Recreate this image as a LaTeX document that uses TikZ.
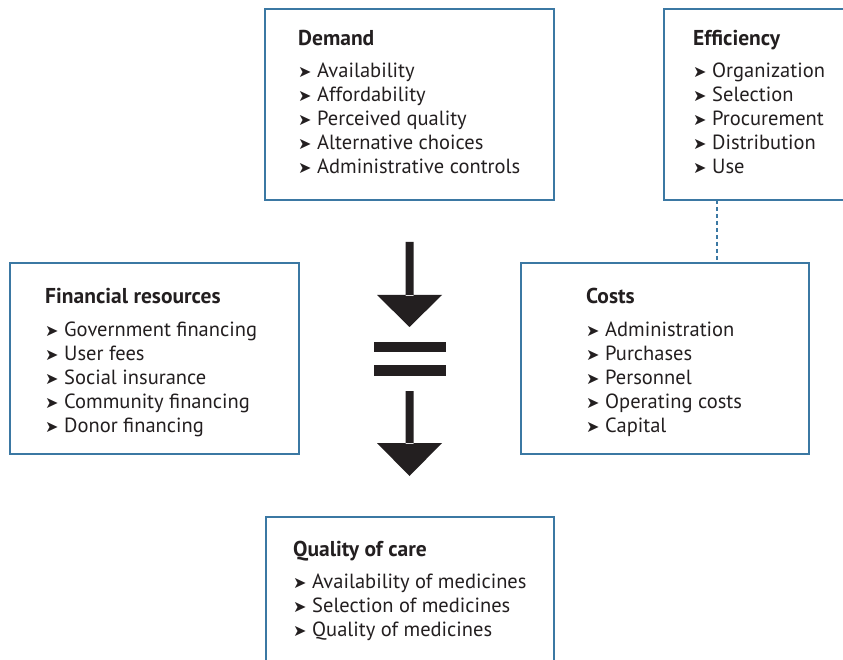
\documentclass[tikz,border=0pt]{standalone}
\usepackage{fontspec}
\setmainfont{PT Sans}
\newfontfamily\symf{DejaVu Sans}
\definecolor{boxblue}{HTML}{3B78A3}
\definecolor{ink}{HTML}{231F20}
\newcommand{\bul}{\makebox[19pt][l]{\symf\fontsize{16}{16}\selectfont ➤}}
\begin{document}
\begin{tikzpicture}[x=1pt,y=-1pt,
  box/.style={draw=boxblue, line width=2pt, inner sep=0, outer sep=0, anchor=north west},
  ttl/.style={anchor=base west, inner sep=0, font=\fontsize{21.5}{23}\selectfont\bfseries, text=ink},
  itm/.style={anchor=base west, inner sep=0, font=\fontsize{20.5}{22}\selectfont, text=ink},
  dotline/.style={draw=boxblue, line width=2.5pt, dash pattern=on 4pt off 3pt},
  blk/.style={fill=ink, draw=none}]
\clip (0,0) rectangle (843,660);
\fill[white] (0,0) rectangle (843,660);
% boxes
\node[box, minimum width=289, minimum height=191] (dem) at (265,9) {};
\node[box, minimum width=240, minimum height=191] (eff) at (664,9) {};
\node[box, minimum width=289, minimum height=191] (fin) at (10,263) {};
\node[box, minimum width=288, minimum height=191] (cst) at (521,263) {};
\node[box, minimum width=288, minimum height=200] (qoc) at (266,517) {};
% dotted connector
\coordinate (dotx) at (717,0);
\draw[dotline] (eff.south -| dotx) -- (cst.north -| dotx);
% Demand
\node[ttl] (demt) at (298,46) {Demand};
\node[itm] (dem1) at (298,78) {\bul Availability};
\node[itm] (dem2) at (298,102) {\bul Affordability};
\node[itm] (dem3) at (298,126) {\bul Perceived quality};
\node[itm] (dem4) at (298,150) {\bul Alternative choices};
\node[itm] (dem5) at (298,174) {\bul Administrative controls};
% Efficiency
\node[ttl] (efft) at (693,46) {Efficiency};
\node[itm] (eff1) at (693,78) {\bul Organization};
\node[itm] (eff2) at (693,102) {\bul Selection};
\node[itm] (eff3) at (693,126) {\bul Procurement};
\node[itm] (eff4) at (693,150) {\bul Distribution};
\node[itm] (eff5) at (693,174) {\bul Use};
% Financial resources
\node[ttl] (fint) at (45,303) {Financial resources};
\node[itm] (fin1) at (45,336) {\bul Government financing};
\node[itm] (fin2) at (45,360) {\bul User fees};
\node[itm] (fin3) at (45,384) {\bul Social insurance};
\node[itm] (fin4) at (45,408) {\bul Community financing};
\node[itm] (fin5) at (45,432) {\bul Donor financing};
% Costs
\node[ttl] (cstt) at (586,303) {Costs};
\node[itm] (cst1) at (586,336) {\bul Administration};
\node[itm] (cst2) at (586,360) {\bul Purchases};
\node[itm] (cst3) at (586,384) {\bul Personnel};
\node[itm] (cst4) at (586,408) {\bul Operating costs};
\node[itm] (cst5) at (586,432) {\bul Capital};
% Quality of care
\node[ttl] (qoct) at (293,556) {Quality of care};
\node[itm] (qoc1) at (293,588) {\bul Availability of medicines};
\node[itm] (qoc2) at (293,612) {\bul Selection of medicines};
\node[itm] (qoc3) at (293,636) {\bul Quality of medicines};
% central arrows and equals sign
\fill[blk] (405.5,242) rectangle (413.5,296) (377,295) -- (442,295) -- (409.5,327) -- cycle;
\fill[blk] (374,342) rectangle (446,352);
\fill[blk] (374,365) rectangle (446,376);
\fill[blk] (405.5,391) rectangle (413.5,444) (377,443) -- (442,443) -- (409.5,476) -- cycle;
\end{tikzpicture}
\end{document}
